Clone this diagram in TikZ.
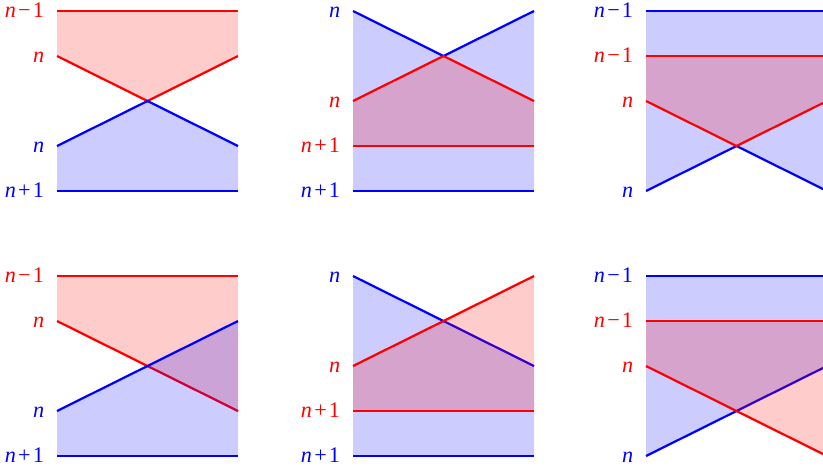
\documentclass[tikz,border=0pt]{standalone}
\usepackage{fontspec}
\setmainfont{Liberation Serif}
\usepackage{tikz}
\newcommand{\nm}{\textit{n}\kern1pt−\kern1pt1}
\newcommand{\np}{\textit{n}\kern1pt+\kern1pt1}

\begin{document}
\begin{tikzpicture}[x=0.45pt, y=-0.45pt,
  redline/.style={red, line width=1pt},
  blueline/.style={blue, line width=1pt},
  redfill/.style={fill=red, fill opacity=0.2},
  bluefill/.style={fill=blue, fill opacity=0.2},
  lab/.style={anchor=base east, inner sep=0pt, xshift=-5.6pt, yshift=-2.9pt}]
  \useasboundingbox (0,0) rectangle (823,472);
  \clip (0,0) rectangle (823,472);

  % top left
  \begin{scope}[shift={(57,0)}]
    \fill[redfill] (0,11) -- (181,11) -- (181,56) -- (90.5,101) -- (0,56) -- cycle;
    \draw[redline] (0,11) -- (181,11);
    \draw[redline] (0,56) -- (90.5,101) -- (181,56);
    \fill[bluefill] (0,146) -- (90.5,101) -- (181,146) -- (181,191) -- (0,191) -- cycle;
    \draw[blueline] (0,146) -- (90.5,101) -- (181,146);
    \draw[blueline] (0,191) -- (181,191);
    \node[lab, text=red] (la1) at (0,11) {\nm};
    \node[lab, text=red] (la2) at (0,56) {\textit{n}};
    \node[lab, text=blue] (la3) at (0,146) {\textit{n}};
    \node[lab, text=blue] (la4) at (0,191) {\np};
  \end{scope}

  % top middle
  \begin{scope}[shift={(353,0)}]
    \fill[bluefill] (0,11) -- (90.5,56) -- (181,11) -- (181,191) -- (0,191) -- cycle;
    \draw[blueline] (0,11) -- (90.5,56) -- (181,11);
    \draw[blueline] (0,191) -- (181,191);
    \fill[redfill] (0,101) -- (90.5,56) -- (181,101) -- (181,146) -- (0,146) -- cycle;
    \draw[redline] (0,101) -- (90.5,56) -- (181,101);
    \draw[redline] (0,146) -- (181,146);
    \node[lab, text=blue] (lb1) at (0,11) {\textit{n}};
    \node[lab, text=red] (lb2) at (0,101) {\textit{n}};
    \node[lab, text=red] (lb3) at (0,146) {\np};
    \node[lab, text=blue] (lb4) at (0,191) {\np};
  \end{scope}

  % top right
  \begin{scope}[shift={(646,0)}]
    \fill[bluefill] (0,11) -- (181,11) -- (181,191) -- (90.5,146) -- (0,191) -- cycle;
    \draw[blueline] (0,11) -- (181,11);
    \draw[blueline] (0,191) -- (90.5,146) -- (181,191);
    \fill[redfill] (0,56) -- (181,56) -- (181,101) -- (90.5,146) -- (0,101) -- cycle;
    \draw[redline] (0,56) -- (181,56);
    \draw[redline] (0,101) -- (90.5,146) -- (181,101);
    \node[lab, text=blue] (lc1) at (0,11) {\nm};
    \node[lab, text=red] (lc2) at (0,56) {\nm};
    \node[lab, text=red] (lc3) at (0,101) {\textit{n}};
    \node[lab, text=blue] (lc4) at (0,191) {\textit{n}};
  \end{scope}

  % bottom left
  \begin{scope}[shift={(57,265)}]
    \fill[redfill] (0,11) -- (181,11) -- (181,146) -- (0,56) -- cycle;
    \draw[redline] (0,11) -- (181,11);
    \draw[redline] (0,56) -- (181,146);
    \fill[bluefill] (0,146) -- (181,56) -- (181,191) -- (0,191) -- cycle;
    \draw[blueline] (0,146) -- (181,56);
    \draw[blueline] (0,191) -- (181,191);
    \node[lab, text=red] (ld1) at (0,11) {\nm};
    \node[lab, text=red] (ld2) at (0,56) {\textit{n}};
    \node[lab, text=blue] (ld3) at (0,146) {\textit{n}};
    \node[lab, text=blue] (ld4) at (0,191) {\np};
  \end{scope}

  % bottom middle
  \begin{scope}[shift={(353,265)}]
    \fill[bluefill] (0,11) -- (181,101) -- (181,191) -- (0,191) -- cycle;
    \draw[blueline] (0,11) -- (181,101);
    \draw[blueline] (0,191) -- (181,191);
    \fill[redfill] (0,101) -- (181,11) -- (181,146) -- (0,146) -- cycle;
    \draw[redline] (0,101) -- (181,11);
    \draw[redline] (0,146) -- (181,146);
    \node[lab, text=blue] (le1) at (0,11) {\textit{n}};
    \node[lab, text=red] (le2) at (0,101) {\textit{n}};
    \node[lab, text=red] (le3) at (0,146) {\np};
    \node[lab, text=blue] (le4) at (0,191) {\np};
  \end{scope}

  % bottom right
  \begin{scope}[shift={(646,265)}]
    \fill[bluefill] (0,11) -- (181,11) -- (181,101) -- (0,191) -- cycle;
    \draw[blueline] (0,11) -- (181,11);
    \draw[blueline] (0,191) -- (181,101);
    \fill[redfill] (0,56) -- (181,56) -- (181,191) -- (0,101) -- cycle;
    \draw[redline] (0,56) -- (181,56);
    \draw[redline] (0,101) -- (181,191);
    \node[lab, text=blue] (lf1) at (0,11) {\nm};
    \node[lab, text=red] (lf2) at (0,56) {\nm};
    \node[lab, text=red] (lf3) at (0,101) {\textit{n}};
    \node[lab, text=blue] (lf4) at (0,191) {\textit{n}};
  \end{scope}
\end{tikzpicture}
\end{document}
